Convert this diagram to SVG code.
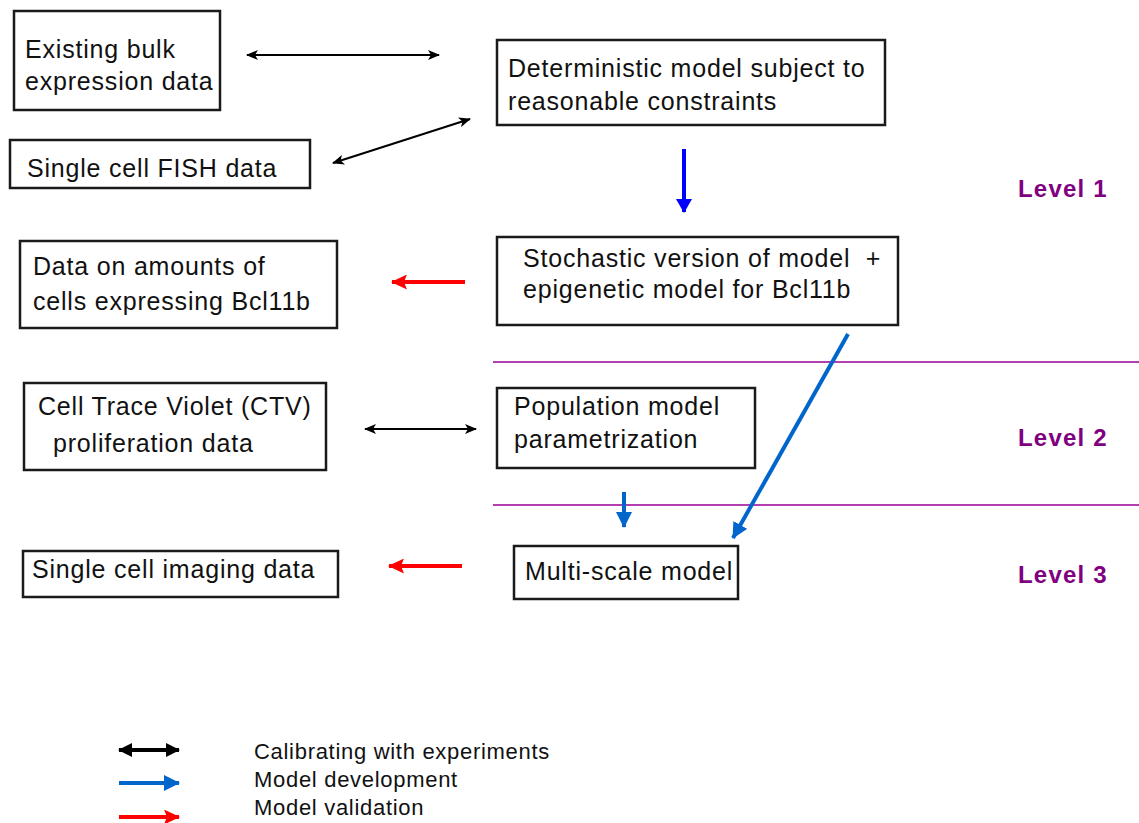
<svg xmlns="http://www.w3.org/2000/svg" width="1139" height="823" viewBox="0 0 1139 823">
<style>
.box{fill:#fff;stroke:#1a1a1a;stroke-width:2.5}
.t{font-family:"Liberation Sans",Arial,sans-serif;font-size:25px;letter-spacing:0.8px;fill:#111}
.lv{font-family:"Liberation Sans",Arial,sans-serif;font-size:24px;font-weight:bold;fill:#800080;letter-spacing:1.2px}
.lg{font-family:"Liberation Sans",Arial,sans-serif;font-size:22px;letter-spacing:0.7px;fill:#111}
.cal{stroke:#000;stroke-width:2;fill:none}
.div{stroke:#990099;stroke-width:1.3}
</style>
<defs>
<marker id="kh" markerUnits="userSpaceOnUse" viewBox="0 0 12 10" refX="11" refY="5" markerWidth="12" markerHeight="10" orient="auto-start-reverse"><path d="M0,0 L12,5 L0,10 L3,5 Z" fill="#000"/></marker>
<marker id="kl" markerUnits="userSpaceOnUse" viewBox="0 0 14 14" refX="13" refY="7" markerWidth="14" markerHeight="14" orient="auto-start-reverse"><path d="M0,0 L14,7 L0,14 Z" fill="#000"/></marker>
<marker id="bh" markerUnits="userSpaceOnUse" viewBox="0 0 14 16" refX="13" refY="8" markerWidth="14" markerHeight="16" orient="auto"><path d="M0,0 L14,8 L0,16 Z" fill="#0000ff"/></marker>
<marker id="mh" markerUnits="userSpaceOnUse" viewBox="0 0 16 16" refX="15" refY="8" markerWidth="16" markerHeight="16" orient="auto"><path d="M0,0 L16,8 L0,16 Z" fill="#0066cc"/></marker>
<marker id="rh" markerUnits="userSpaceOnUse" viewBox="0 0 16 15" refX="15" refY="7.5" markerWidth="16" markerHeight="15" orient="auto"><path d="M0,0 L16,7.5 L0,15 L3,7.5 Z" fill="#ff0000"/></marker>
</defs>

<g id="dividers">
<line class="div" x1="493" y1="362" x2="1139" y2="362"/>
<line class="div" x1="493" y1="505" x2="1139" y2="505"/>
</g>

<g id="n-bulk"><rect class="box" x="14" y="11" width="206" height="99"/><text class="t" x="25" y="58">Existing bulk</text><text class="t" x="25" y="90">expression data</text></g>
<g id="n-fish"><rect class="box" x="10" y="140" width="300" height="48"/><text class="t" x="27" y="177">Single cell FISH data</text></g>
<g id="n-det"><rect class="box" x="497" y="40" width="388" height="85"/><text class="t" x="508" y="77">Deterministic model subject to</text><text class="t" x="508" y="110">reasonable constraints</text></g>
<g id="n-stoch"><rect class="box" x="497" y="237" width="401" height="88"/><text class="t" x="523" y="267" xml:space="preserve">Stochastic version of model  +</text><text class="t" x="523" y="298">epigenetic model for Bcl11b</text></g>
<g id="n-amounts"><rect class="box" x="20" y="241" width="317" height="87"/><text class="t" x="33" y="275">Data on amounts of</text><text class="t" x="33" y="310">cells expressing Bcl11b</text></g>
<g id="n-ctv"><rect class="box" x="24" y="383" width="302" height="87"/><text class="t" x="38" y="415">Cell Trace Violet (CTV)</text><text class="t" x="53" y="452">proliferation data</text></g>
<g id="n-pop"><rect class="box" x="497" y="388" width="258" height="80"/><text class="t" x="514" y="415">Population model</text><text class="t" x="514" y="448">parametrization</text></g>
<g id="n-multi"><rect class="box" x="514" y="546" width="224" height="53"/><text class="t" x="525" y="580">Multi-scale model</text></g>
<g id="n-imaging"><rect class="box" x="23" y="551" width="315" height="46"/><text class="t" x="32" y="578">Single cell imaging data</text></g>

<g id="levels">
<text class="lv" x="1018" y="197">Level 1</text>
<text class="lv" x="1018" y="446">Level 2</text>
<text class="lv" x="1018" y="583">Level 3</text>
</g>

<g id="connectors">
<line class="cal" x1="247" y1="55" x2="439" y2="55" marker-start="url(#kh)" marker-end="url(#kh)"/>
<line class="cal" x1="333" y1="163" x2="470" y2="119" marker-start="url(#kh)" marker-end="url(#kh)"/>
<line class="cal" x1="365" y1="429" x2="476" y2="429" marker-start="url(#kh)" marker-end="url(#kh)"/>
<line x1="684" y1="149" x2="684" y2="212" stroke="#0000ff" stroke-width="4" marker-end="url(#bh)"/>
<line x1="465" y1="282" x2="392" y2="282" stroke="#ff0000" stroke-width="4" marker-end="url(#rh)"/>
<line x1="462" y1="566" x2="389" y2="566" stroke="#ff0000" stroke-width="4" marker-end="url(#rh)"/>
<line x1="624" y1="492" x2="624" y2="527" stroke="#0066cc" stroke-width="4" marker-end="url(#mh)"/>
<line x1="848" y1="334" x2="733" y2="538" stroke="#0066cc" stroke-width="4" marker-end="url(#mh)"/>
</g>

<g id="legend">
<line x1="119" y1="750" x2="179" y2="750" stroke="#000" stroke-width="4" marker-start="url(#kl)" marker-end="url(#kl)"/>
<line x1="119" y1="783" x2="179" y2="783" stroke="#0066cc" stroke-width="4" marker-end="url(#mh)"/>
<line x1="119" y1="817" x2="179" y2="817" stroke="#ff0000" stroke-width="4" marker-end="url(#rh)"/>
<text class="lg" x="254" y="759">Calibrating with experiments</text>
<text class="lg" x="254" y="787">Model development</text>
<text class="lg" x="254" y="815">Model validation</text>
</g>
</svg>
